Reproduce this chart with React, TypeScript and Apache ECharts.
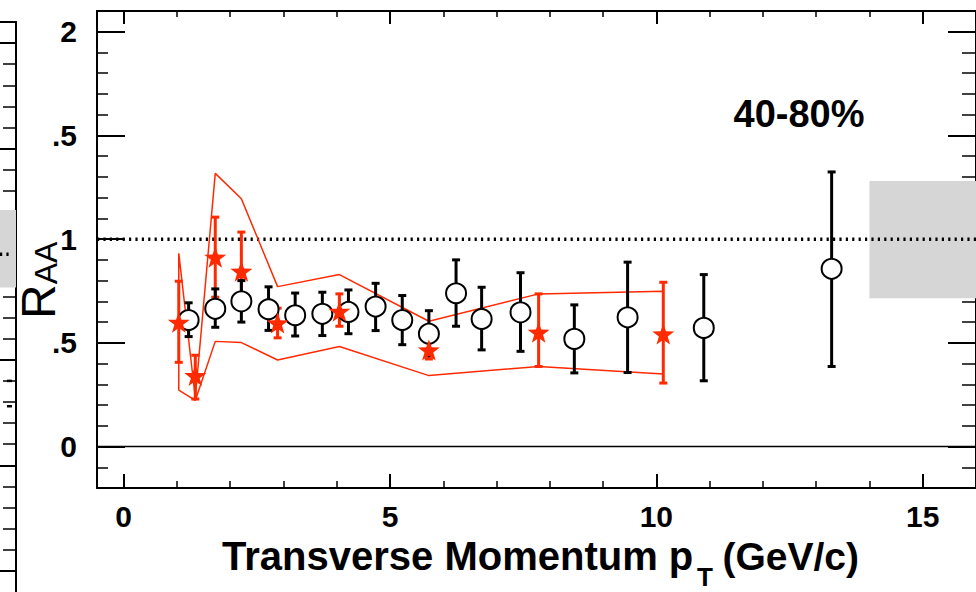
import React, { useEffect, useRef } from "react";
import * as echarts from "echarts";

// Open circles: pT, R_AA, lower and upper end of the error bar
const circlePt = [1.22, 1.72, 2.21, 2.72, 3.22, 3.73, 4.22, 4.73, 5.23, 5.73, 6.24, 6.72, 7.45, 8.46, 9.46, 10.89, 13.29];
const circleRaa = [0.61, 0.664, 0.7, 0.662, 0.633, 0.64, 0.649, 0.675, 0.61, 0.544, 0.739, 0.615, 0.647, 0.519, 0.623, 0.572, 0.857];
const circleLo = [0.53, 0.575, 0.6, 0.56, 0.533, 0.535, 0.544, 0.559, 0.491, 0.438, 0.58, 0.466, 0.459, 0.355, 0.357, 0.317, 0.386];
const circleHi = [0.693, 0.76, 0.8, 0.77, 0.74, 0.744, 0.755, 0.787, 0.728, 0.655, 0.9, 0.768, 0.838, 0.683, 0.889, 0.829, 1.324];

// Stars: pT, R_AA, lower and upper end of the error bar
const starPt = [1.035, 1.345, 1.72, 2.21, 2.89, 4.05, 5.73, 7.79, 10.13];
const starRaa = [0.599, 0.342, 0.913, 0.845, 0.596, 0.652, 0.466, 0.551, 0.543];
const starLo = [0.406, 0.229, 0.72, 0.664, 0.524, 0.58, 0.422, 0.386, 0.306];
const starHi = [0.797, 0.44, 1.106, 1.034, 0.667, 0.736, 0.519, 0.736, 0.792];

// Systematic band around the stars
const bandHigh = [0.932, 0.235, 1.317, 1.195, 0.771, 0.829, 0.604, 0.736, 0.749];
const bandLow = [0.272, 0.222, 0.507, 0.501, 0.417, 0.482, 0.342, 0.386, 0.35];

// Normalisation uncertainty box (pT from, pT to, R_AA from, R_AA to)
const normBox = [14, 16, 0.715, 1.28];

// Neighbouring panel: its normalisation box and two caps
const sideBox = [0, 1, 0.842, 1.209];
const sideCapY = [0.4, 0.28];

const centralityLabel = "40-80%";

const xMajor = [0, 5, 10, 15];
const xMinor = [0, 1, 2, 3, 4, 5, 6, 7, 8, 9, 10, 11, 12, 13, 14, 15, 16];
const yMajor = [0, 0.5, 1, 1.5, 2];
const yTickText = ["0", ".5", "1", ".5", "2"];
const yMinor = [-0.1, 0, 0.1, 0.2, 0.3, 0.4, 0.5, 0.6, 0.7, 0.8, 0.9, 1, 1.1, 1.2, 1.3, 1.4, 1.5, 1.6, 1.7, 1.8, 1.9, 2];
const sideMajor = [-0.5, 0, 0.5, 1, 1.5, 2];
const sideMinor = [-0.5, -0.4, -0.3, -0.2, -0.1, 0, 0.1, 0.2, 0.3, 0.4, 0.5, 0.6, 0.7, 0.8, 0.9, 1, 1.1, 1.2, 1.3, 1.4, 1.5, 1.6, 1.7, 1.8, 1.9, 2];

const FONT = '"Liberation Sans", Arial, Helvetica, sans-serif';
const RED = "#ff2a00";
const STAR = "path://M0,-10 L2.35,-3.24 L9.51,-3.09 L3.8,1.24 L5.88,8.09 L0,4 L-5.88,8.09 L-3.8,1.24 L-9.51,-3.09 L-2.35,-3.24 Z";
const DOTTED = { color: "#000", width: 3.5, type: [2.2, 4.2], cap: "butt" };

function errorBars(color: string) {
  return (_params: any, api: any) => {
    const x = api.value(0);
    const lo = api.coord([x, api.value(1)]);
    const hi = api.coord([x, api.value(2)]);
    const cap = 4;
    const st = { stroke: color, lineWidth: 3 };
    return {
      type: "group",
      children: [
        { type: "line", shape: { x1: lo[0], y1: lo[1], x2: hi[0], y2: hi[1] }, style: st },
        { type: "line", shape: { x1: lo[0] - cap, y1: lo[1], x2: lo[0] + cap, y2: lo[1] }, style: st },
        { type: "line", shape: { x1: hi[0] - cap, y1: hi[1], x2: hi[0] + cap, y2: hi[1] }, style: st },
      ],
    };
  };
}

function boxItem(color: string) {
  return (_params: any, api: any) => {
    const a = api.coord([api.value(0), api.value(3)]);
    const b = api.coord([api.value(1), api.value(2)]);
    return {
      type: "rect",
      shape: { x: a[0], y: a[1], width: b[0] - a[0], height: b[1] - a[1] },
      style: { fill: color },
    };
  };
}

function xAx(position: string, values: number[], length: number, width: number, main: boolean, labels: boolean) {
  return {
    type: "value",
    gridIndex: 0,
    position,
    min: -0.5,
    max: 16,
    axisLine: { show: main, onZero: false, lineStyle: { color: "#000", width: 2 } },
    axisTick: { show: true, inside: true, length, customValues: values, lineStyle: { color: "#000", width } },
    axisLabel: labels
      ? { show: true, customValues: values, color: "#000", fontSize: 30, fontWeight: "bold", fontFamily: FONT, margin: 13 }
      : { show: false },
    splitLine: { show: false },
  };
}

function yAx(grid: number, position: string, min: number, max: number, values: number[], length: number, width: number, main: boolean, labels: boolean) {
  return {
    type: "value",
    gridIndex: grid,
    position,
    min,
    max,
    axisLine: { show: main, onZero: false, lineStyle: { color: "#000", width: 2 } },
    axisTick: { show: true, inside: true, length, customValues: values, lineStyle: { color: "#000", width } },
    axisLabel: labels
      ? {
          show: true,
          customValues: values,
          color: "#000",
          fontSize: 30,
          fontWeight: "bold",
          fontFamily: FONT,
          margin: 20,
          padding: [6, 0, 0, 0],
          formatter: (v: number) => yTickText[yMajor.indexOf(v)] ?? "",
        }
      : { show: false },
    splitLine: { show: false },
  };
}

export default function App() {
  const ref = useRef<HTMLDivElement>(null);

  useEffect(() => {
    if (!ref.current) return;
    const chart = echarts.init(ref.current, null, { renderer: "svg" });

    const bandLoop: number[][] = [];
    starPt.forEach((x, i) => bandLoop.push([x, bandHigh[i]]));
    for (let i = starPt.length - 1; i >= 0; i--) bandLoop.push([starPt[i], bandLow[i]]);
    bandLoop.push([starPt[0], bandHigh[0]]);

    const option: any = {
      animation: false,
      backgroundColor: "#fff",
      grid: [
        { left: 97, top: 11, width: 888, height: 477 },
        { left: 0, top: 22, width: 16, height: 582 },
      ],
      xAxis: [
        xAx("bottom", xMajor, 14, 2, true, true),
        xAx("bottom", xMinor, 7, 1.5, false, false),
        xAx("top", xMajor, 13, 2, true, false),
        xAx("top", xMinor, 6, 1.5, false, false),
        {
          type: "value",
          gridIndex: 1,
          position: "top",
          min: 0,
          max: 1,
          axisLine: { show: true, onZero: false, lineStyle: { color: "#000", width: 2 } },
          axisTick: { show: false },
          axisLabel: { show: false },
          splitLine: { show: false },
        },
      ],
      yAxis: [
        yAx(0, "left", -0.2, 2.1, yMajor, 28, 2, true, true),
        yAx(0, "left", -0.2, 2.1, yMinor, 11, 1.5, false, false),
        yAx(0, "right", -0.2, 2.1, yMajor, 28, 2, true, false),
        yAx(0, "right", -0.2, 2.1, yMinor, 14, 1.5, false, false),
        yAx(1, "right", -0.6, 2.1, sideMajor, 17, 2, true, false),
        yAx(1, "right", -0.6, 2.1, sideMinor, 13, 1.5, false, false),
      ],
      series: [
        {
          type: "custom",
          xAxisIndex: 0,
          yAxisIndex: 0,
          renderItem: boxItem("#d6d6d6"),
          data: [normBox],
          z: 1,
          silent: true,
        },
        {
          type: "line",
          xAxisIndex: 0,
          yAxisIndex: 0,
          data: [[-0.5, 1], [16, 1]],
          symbol: "none",
          lineStyle: DOTTED,
          z: 2,
          silent: true,
        },
        {
          type: "line",
          xAxisIndex: 0,
          yAxisIndex: 0,
          data: [[-0.5, 0], [16, 0]],
          symbol: "none",
          lineStyle: { color: "#000", width: 1.3 },
          z: 2,
          silent: true,
        },
        {
          type: "line",
          xAxisIndex: 0,
          yAxisIndex: 0,
          data: bandLoop,
          symbol: "none",
          lineStyle: { color: RED, width: 1.5 },
          z: 3,
          silent: true,
        },
        {
          type: "custom",
          xAxisIndex: 0,
          yAxisIndex: 0,
          renderItem: errorBars(RED),
          encode: { x: 0, y: [1, 2] },
          data: starPt.map((x, i) => [x, starLo[i], starHi[i]]),
          z: 4,
        },
        {
          type: "custom",
          xAxisIndex: 0,
          yAxisIndex: 0,
          renderItem: errorBars("#000"),
          encode: { x: 0, y: [1, 2] },
          data: circlePt.map((x, i) => [x, circleLo[i], circleHi[i]]),
          z: 5,
        },
        {
          type: "scatter",
          xAxisIndex: 0,
          yAxisIndex: 0,
          data: circlePt.map((x, i) => [x, circleRaa[i]]),
          symbol: "circle",
          symbolSize: 20,
          itemStyle: { color: "#fff", borderColor: "#000", borderWidth: 2, opacity: 1 },
          z: 6,
        },
        {
          type: "scatter",
          xAxisIndex: 0,
          yAxisIndex: 0,
          data: starPt.map((x, i) => [x, starRaa[i]]),
          symbol: STAR,
          symbolSize: [22, 21],
          itemStyle: { color: RED, opacity: 1 },
          z: 7,
        },
        // neighbouring panel
        {
          type: "custom",
          xAxisIndex: 4,
          yAxisIndex: 4,
          renderItem: boxItem("#d6d6d6"),
          data: [sideBox],
          z: 1,
          silent: true,
        },
        {
          type: "line",
          xAxisIndex: 4,
          yAxisIndex: 4,
          data: [[0, 1], [0.8, 1]],
          symbol: "none",
          lineStyle: DOTTED,
          z: 2,
          silent: true,
        },
        {
          type: "scatter",
          xAxisIndex: 4,
          yAxisIndex: 4,
          data: sideCapY.map((y) => [0.59, y]),
          symbol: "rect",
          symbolSize: [5, 2.5],
          itemStyle: { color: "#000", opacity: 1 },
          z: 3,
          silent: true,
        },
      ],
      graphic: [
        {
          type: "text",
          x: 799,
          y: 114,
          style: {
            text: centralityLabel,
            fill: "#000",
            font: `bold 38px ${FONT}`,
            align: "center",
            verticalAlign: "middle",
            textAlign: "center",
            textVerticalAlign: "middle",
          },
        },
        {
          type: "text",
          x: 38,
          y: 319,
          rotation: Math.PI / 2,
          style: {
            text: "{r|R}{s|AA}",
            fill: "#000",
            align: "left",
            verticalAlign: "middle",
            textAlign: "left",
            textVerticalAlign: "middle",
            rich: {
              r: { fontSize: 48, fontFamily: FONT, fill: "#000", verticalAlign: "bottom" },
              s: { fontSize: 32, fontFamily: FONT, fill: "#000", verticalAlign: "bottom" },
            },
          },
        },
        {
          type: "text",
          x: 222,
          y: 556,
          style: {
            text: "Transverse Momentum p",
            fill: "#000",
            font: `bold 40px ${FONT}`,
            align: "left",
            verticalAlign: "middle",
            textAlign: "left",
            textVerticalAlign: "middle",
          },
        },
        {
          type: "text",
          x: 697,
          y: 577,
          style: {
            text: "T",
            fill: "#000",
            font: `bold 26px ${FONT}`,
            align: "left",
            verticalAlign: "middle",
            textAlign: "left",
            textVerticalAlign: "middle",
          },
        },
        {
          type: "text",
          x: 859,
          y: 556,
          style: {
            text: "(GeV/c)",
            fill: "#000",
            font: `bold 39px ${FONT}`,
            align: "right",
            verticalAlign: "middle",
            textAlign: "right",
            textVerticalAlign: "middle",
          },
        },
      ],
    };

    chart.setOption(option);
    return () => chart.dispose();
  }, []);

  return (
    <div
      ref={ref}
      style={{ position: "fixed", left: 0, top: 0, width: 976, height: 592, background: "#fff" }}
    />
  );
}
